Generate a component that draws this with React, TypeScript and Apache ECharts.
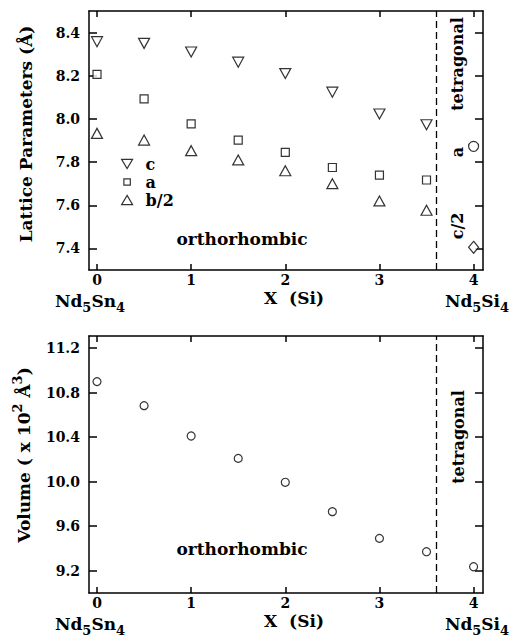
import React, { useEffect, useRef } from 'react';
import * as echarts from 'echarts';

// ---- data ----
const xLattice = [0, 0.5, 1, 1.5, 2, 2.5, 3, 3.5];
const latticeC = [8.358, 8.35, 8.31, 8.263, 8.21, 8.124, 8.023, 7.973];
const latticeA = [8.206, 8.093, 7.977, 7.902, 7.845, 7.775, 7.74, 7.717];
const latticeBHalf = [7.933, 7.902, 7.853, 7.81, 7.76, 7.7, 7.62, 7.577];
const xTetragonal = [4];
const tetragonalA = [7.873];
const tetragonalCHalf = [7.405];
const xVolume = [0, 0.5, 1, 1.5, 2, 2.5, 3, 3.5, 4];
const volume = [10.9, 10.684, 10.411, 10.21, 9.995, 9.731, 9.491, 9.371, 9.236];
const phaseBoundary = 3.6;
const xTicks = [0, 1, 2, 3, 4];
const latticeTicks = [7.4, 7.6, 7.8, 8.0, 8.2, 8.4];
const volumeTicks = [9.2, 9.6, 10.0, 10.4, 10.8, 11.2];

const FONT = '"DejaVu Serif", serif';
const DOWN_TRI = 'path://M0,0L12,0L6,10Z';
const UP_TRI = 'path://M6,0L12,10L0,10Z';
const SMALL_SQUARE = 'path://M0,0M12,10M2.5,1.5L9.5,1.5L9.5,8.5L2.5,8.5Z';

const hollow = { color: '#fff', borderColor: '#000', borderWidth: 1.2 };
const lineStyle = { color: '#000', width: 1.5 };
const labelStyle = { fontFamily: FONT, fontWeight: 'bold', fontSize: 14, lineHeight: 14, color: '#000' };
const base = { fontFamily: FONT, fontWeight: 'bold', color: '#000' };
const rich = {
  s: { ...base, fontSize: 13, lineHeight: 10, verticalAlign: 'bottom' },
  p: { ...base, fontSize: 13, lineHeight: 10, verticalAlign: 'top' },
};

function xAxis(gridIndex: number, position: 'top' | 'bottom', labels: boolean) {
  return {
    type: 'value', gridIndex, position, min: -0.085, max: 4.1,
    axisLine: { show: true, onZero: false, lineStyle },
    axisTick: { show: true, inside: true, length: 6, customValues: xTicks, lineStyle },
    axisLabel: { show: labels, customValues: xTicks, margin: 3, formatter: (v: number) => String(v), ...labelStyle },
    splitLine: { show: false },
  };
}
function yAxis(gridIndex: number, position: 'left' | 'right', labels: boolean, min: number, max: number, ticks: number[]) {
  return {
    type: 'value', gridIndex, position, min, max,
    axisLine: { show: true, onZero: false, lineStyle },
    axisTick: { show: true, inside: true, length: 8, customValues: ticks, lineStyle },
    axisLabel: { show: labels, customValues: ticks, margin: 9, formatter: (v: number) => v.toFixed(1), ...labelStyle },
    splitLine: { show: false },
  };
}

function txt(text: string, x: number, y: number, rotate = false, size = 17, lh = 17) {
  return {
    type: 'text', x, y, rotation: rotate ? Math.PI / 2 : 0,
    style: {
      text, fontFamily: FONT, fontWeight: 'bold', fontSize: size, fill: '#000',
      align: 'center', verticalAlign: 'middle', lineHeight: lh, rich,
    },
  };
}

const pairs = (xs: number[], ys: number[]) => xs.map((x, i) => [x, ys[i]]);

const dashedBoundary = {
  silent: true, symbol: ['none', 'none'], label: { show: false },
  lineStyle: { type: [7, 4], color: '#000', width: 1.3 },
  data: [{ xAxis: phaseBoundary }],
};

const option = {
  animation: false,
  backgroundColor: '#fff',
  grid: [
    { left: 89, top: 11, width: 394, height: 259, outerBoundsMode: 'none' },
    { left: 89, top: 336, width: 394, height: 257, outerBoundsMode: 'none' },
  ],
  xAxis: [xAxis(0, 'bottom', true), xAxis(0, 'top', false), xAxis(1, 'bottom', true), xAxis(1, 'top', false)],
  yAxis: [
    yAxis(0, 'left', true, 7.3, 8.5, latticeTicks),
    yAxis(0, 'right', false, 7.3, 8.5, latticeTicks),
    yAxis(1, 'left', true, 9.0, 11.31, volumeTicks),
    yAxis(1, 'right', false, 9.0, 11.31, volumeTicks),
  ],
  legend: {
    orient: 'vertical', left: 121, top: 156, itemWidth: 11, itemHeight: 10, itemGap: 2, padding: 0,
    textStyle: { fontFamily: FONT, fontWeight: 'bold', fontSize: 16, lineHeight: 14, color: '#000', padding: [0, 0, 0, 8] },
    data: [
      { name: 'c', icon: DOWN_TRI, itemStyle: hollow },
      { name: 'a', icon: SMALL_SQUARE, itemStyle: hollow },
      { name: 'b/2', icon: UP_TRI, itemStyle: hollow },
    ],
  },
  series: [
    { name: 'c', type: 'scatter', xAxisIndex: 0, yAxisIndex: 0, symbol: DOWN_TRI, symbolSize: [11, 10], itemStyle: hollow, data: pairs(xLattice, latticeC), markLine: dashedBoundary },
    { name: 'a', type: 'scatter', xAxisIndex: 0, yAxisIndex: 0, symbol: 'rect', symbolSize: 8, itemStyle: hollow, data: pairs(xLattice, latticeA) },
    { name: 'b/2', type: 'scatter', xAxisIndex: 0, yAxisIndex: 0, symbol: UP_TRI, symbolSize: [11, 10], itemStyle: hollow, data: pairs(xLattice, latticeBHalf) },
    { name: 'a (tetragonal)', type: 'scatter', xAxisIndex: 0, yAxisIndex: 0, symbol: 'circle', symbolSize: 10, itemStyle: hollow, data: pairs(xTetragonal, tetragonalA) },
    { name: 'c/2 (tetragonal)', type: 'scatter', xAxisIndex: 0, yAxisIndex: 0, symbol: 'diamond', symbolSize: [10, 12], itemStyle: hollow, data: pairs(xTetragonal, tetragonalCHalf) },
    { name: 'Volume', type: 'scatter', xAxisIndex: 2, yAxisIndex: 2, symbol: 'circle', symbolSize: 8, itemStyle: hollow, data: pairs(xVolume, volume), markLine: dashedBoundary },
  ],
  graphic: [
    txt('orthorhombic', 242, 239),
    txt('orthorhombic', 242, 549),
    txt('tetragonal', 457, 64, true, 16),
    txt('a', 457, 152, true, 16),
    txt('c/2', 457, 226, true, 16),
    txt('tetragonal', 458, 437, true, 16),
    txt('Lattice Parameters (Å)', 26, 134, true),
    txt('Volume ( x 10{p|2} Å{p|3})', 24, 455, true, 17, 26),
    txt('X  (Si)', 294, 298, false, 17, 16),
    txt('X  (Si)', 294, 621, false, 17, 16),
    txt('Nd{s|5}Sn{s|4}', 90, 301, false, 17, 26),
    txt('Nd{s|5}Si{s|4}', 477, 301, false, 17, 26),
    txt('Nd{s|5}Sn{s|4}', 90, 624, false, 17, 26),
    txt('Nd{s|5}Si{s|4}', 477, 624, false, 17, 26),
  ],
};

export default function App() {
  const ref = useRef<HTMLDivElement>(null);
  useEffect(() => {
    const chart = echarts.init(ref.current!, null, { renderer: 'svg' });
    chart.setOption(option as any);
    return () => chart.dispose();
  }, []);
  return <div ref={ref} style={{ position: 'absolute', left: 0, top: 0, width: 514, height: 641, background: '#fff' }} />;
}
